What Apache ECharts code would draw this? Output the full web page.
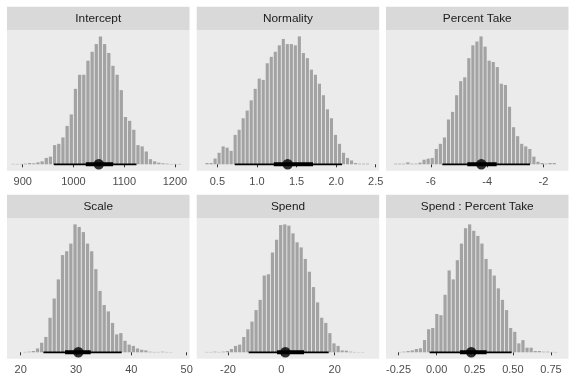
<!DOCTYPE html>
<html>
<head>
<meta charset="utf-8">
<script src="https://cdn.jsdelivr.net/npm/echarts@6/dist/echarts.min.js"></script>
<style>html,body{margin:0;padding:0;background:#fff}#c{width:576px;height:384px}</style>
</head>
<body>
<div id="c"></div>
<script>
// ---------- data ----------
const panelTitles = ['Intercept', 'Normality', 'Percent Take', 'Scale', 'Spend', 'Spend : Percent Take'];

// histogram: first bin left edge, bin width, relative heights (max = 100)
const interceptBinStart = 876.7, interceptBinWidth = 8.21;
const interceptHeights = [0.3,0.3,0.3,0.5,1,0.8,1.5,2.3,5,6,15,16,21,30,39,59,70,70,81,88,94,100,94,87,77,70,58,37,34,27,15,14,10,4,2.3,1.3,0.8,0.5,0.3,0.3,0.3];

const normalityBinStart = 0.344, normalityBinWidth = 0.0507;
const normalityHeights = [1,1,4.5,9,14,13,10.5,23,27,36,42,50,59,67,66,79,84,88,93,98,94,94,93,100,87,83,74,70,63,54,43,36,23,16,9,5,3,1,0.5,0.5,0.5];

const percentTakeBinStart = -7.33, percentTakeBinWidth = 0.1447;
const percentTakeHeights = [0.5,0.5,0.5,1.5,0.5,0.5,1.3,3.6,4.4,5,12,16,21,35,41,54,65,68,83,93,96,100,92,81,80,76,63,62,45,29,22,16,14,12,6,2,1,0.5,1,1];

const scaleBinStart = 20.407, scaleBinWidth = 0.753;
const scaleHeights = [0.3,0.5,1,3,7.5,12,27,42,57,76,79,85,100,98,94,85,79,65,48,37,32,23,14,15,9,6,5,3,2,1.5,0.5,0.3,0.3,0.5,0.3,0.2];

const spendBinStart = -28.69, spendBinWidth = 1.5375;
const spendHeights = [0.3,0.3,0.5,0.3,0.5,1,2.6,5,6,12,18,24,33,41,60,61,78,88,99.5,100,99,93,86,82,73,63,51,39,27,23,15,7,5,1.5,1.3,0.5,0.3,0.2,0.2];

const spendPTBinStart = -0.2539, spendPTBinWidth = 0.02689;
const spendPTHeights = [0.3,0.5,1,1.5,2.6,3.1,9.6,18,19,30,29,45,64,57,72,85,97,100,95,91,85,73,65,60,50,41,33,19,16,7,9.5,3.6,3.6,1,1,0.5,0.5,0.3,0.3];

// point intervals: [median, 66% low, 66% high, 95% low, 95% high]
const interceptInterval = [1049.9, 1024.3, 1078.1, 961.3, 1124.1];
const normalityInterval = [1.388, 1.212, 1.708, 0.719, 2.075];
const percentTakeInterval = [-4.209, -4.707, -3.663, -5.597, -2.477];
const scaleInterval = [30.42, 28.01, 32.65, 24.1, 38.25];
const spendInterval = [1.5, -1.6, 8.5, -12.25, 17.75];
const spendPTInterval = [0.227, 0.153, 0.328, -0.046, 0.492];

// tick values and labels
const interceptTicks = [900, 1000, 1100, 1200];
const interceptTickLabels = ['900', '1000', '1100', '1200'];
const normalityTicks = [0.5, 1.0, 1.5, 2.0, 2.5];
const normalityTickLabels = ['0.5', '1.0', '1.5', '2.0', '2.5'];
const percentTakeTicks = [-6, -4, -2];
const percentTakeTickLabels = ['-6', '-4', '-2'];
const scaleTicks = [20, 30, 40, 50];
const scaleTickLabels = ['20', '30', '40', '50'];
const spendTicks = [-20, 0, 20];
const spendTickLabels = ['-20', '0', '20'];
const spendPTTicks = [-0.25, 0.00, 0.25, 0.50, 0.75];
const spendPTTickLabels = ['-0.25', '0.00', '0.25', '0.50', '0.75'];

// axis extents
const xRanges = [[869.1, 1228.6], [0.2385, 2.544], [-7.601, -1.106], [17.524, 50.51], [-31.73, 36.69], [-0.332, 0.865]];

// ---------- build ----------
const panels = [
  {start: interceptBinStart, width: interceptBinWidth, h: interceptHeights, iv: interceptInterval, ticks: interceptTicks, labels: interceptTickLabels},
  {start: normalityBinStart, width: normalityBinWidth, h: normalityHeights, iv: normalityInterval, ticks: normalityTicks, labels: normalityTickLabels},
  {start: percentTakeBinStart, width: percentTakeBinWidth, h: percentTakeHeights, iv: percentTakeInterval, ticks: percentTakeTicks, labels: percentTakeTickLabels},
  {start: scaleBinStart, width: scaleBinWidth, h: scaleHeights, iv: scaleInterval, ticks: scaleTicks, labels: scaleTickLabels},
  {start: spendBinStart, width: spendBinWidth, h: spendHeights, iv: spendInterval, ticks: spendTicks, labels: spendTickLabels},
  {start: spendPTBinStart, width: spendPTBinWidth, h: spendPTHeights, iv: spendPTInterval, ticks: spendPTTicks, labels: spendPTTickLabels}
];

const colLefts = [7, 196.7, 386];
const panelW = 182.5;
const rowTops = [30, 218];
const panelH = 140.7;
const stripH = 23.3;
const FONT = '"Liberation Sans", Arial, Helvetica, sans-serif';

const grids = [], xAxes = [], yAxes = [], series = [], graphics = [];

panels.forEach((p, i) => {
  const col = i % 3, row = Math.floor(i / 3);
  const left = colLefts[col], top = rowTops[row];
  grids.push({left: left, top: top, width: panelW, height: panelH, show: true, backgroundColor: '#EBEBEB', borderWidth: 0, containLabel: false});
  xAxes.push({
    type: 'value', gridIndex: i, min: xRanges[i][0], max: xRanges[i][1],
    axisLine: {show: false},
    splitLine: {show: false},
    axisTick: {show: true, customValues: p.ticks, length: 3, lineStyle: {color: '#333333', width: 1}},
    axisLabel: {
      show: true, customValues: p.ticks, margin: 6, color: '#4D4D4D', fontSize: 11, fontFamily: FONT,
      formatter: (v) => { const k = p.ticks.findIndex(t => Math.abs(t - v) < 1e-9); return k >= 0 ? p.labels[k] : ''; }
    }
  });
  yAxes.push({type: 'value', gridIndex: i, min: -5, max: 105, show: false, splitLine: {show: false}});

  const binData = p.h.map((h, k) => [p.start + k * p.width, p.start + (k + 1) * p.width, h]);
  series.push({
    type: 'custom', xAxisIndex: i, yAxisIndex: i, data: binData, encode: {x: [0, 1], y: 2},
    silent: true,
    renderItem: (params, api) => {
      const a = api.coord([api.value(0), api.value(2)]);
      const b = api.coord([api.value(1), 0]);
      const w = Math.max(b[0] - a[0] - 0.9, 0.5);
      return {type: 'rect', shape: {x: a[0] + 0.45, y: a[1], width: w, height: b[1] - a[1]}, style: {fill: '#A3A3A3'}};
    }
  });
  const iv = p.iv;
  series.push({type: 'line', xAxisIndex: i, yAxisIndex: i, data: [[iv[3], 0], [iv[4], 0]], symbol: 'none', silent: true,
    lineStyle: {color: '#000', width: 1.7, cap: 'butt'}, z: 3, animation: false});
  series.push({type: 'line', xAxisIndex: i, yAxisIndex: i, data: [[iv[1], 0], [iv[2], 0]], symbol: 'none', silent: true,
    lineStyle: {color: '#000', width: 4, cap: 'butt'}, z: 4, animation: false});
  series.push({type: 'scatter', xAxisIndex: i, yAxisIndex: i, data: [[iv[0], 0]], symbol: 'circle', symbolSize: 10.5, silent: true,
    itemStyle: {color: '#000'}, z: 5, animation: false});

  graphics.push({
    type: 'rect', left: left, top: top - stripH, shape: {width: panelW, height: stripH}, style: {fill: '#D9D9D9'}, silent: true
  });
  graphics.push({
    type: 'text', x: left + panelW / 2, y: top - stripH / 2 + 0.5,
    style: {text: panelTitles[i], fill: '#1A1A1A', font: '11.8px ' + FONT, textAlign: 'center', textVerticalAlign: 'middle'}, silent: true
  });
});

const chart = echarts.init(document.getElementById('c'), null, {renderer: 'canvas'});
chart.setOption({
  animation: false,
  backgroundColor: '#FFFFFF',
  grid: grids, xAxis: xAxes, yAxis: yAxes, series: series, graphic: graphics
});
</script>
</body>
</html>
